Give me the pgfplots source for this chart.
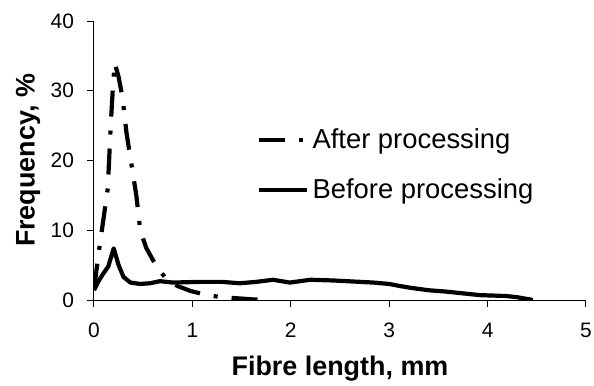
\documentclass[border=0pt]{standalone}
\usepackage{pgfplots}
\pgfplotsset{compat=1.18}
\usetikzlibrary{calc}
\usepackage{fontspec}
\setmainfont{Liberation Sans}
\begin{document}
\begin{tikzpicture}
\begin{axis}[
  name=ax,
  scale only axis,
  width=246bp, height=139.5bp,
  xmin=0, xmax=5, ymin=0, ymax=40,
  xtick={0,1,2,3,4,5}, ytick={0,10,20,30,40},
  axis x line*=bottom, axis y line*=left,
  axis line style={line width=0.5bp, -},
  tick align=outside, tick style={line width=0.5bp, black},
  major tick length=3.5bp,
  /pgf/number format/assume math mode=true,
  ticklabel style={font=\fontsize{10.5}{12}\selectfont},
  xticklabel style={yshift=-4.5bp},
  yticklabel style={xshift=-3bp},
  xlabel={Fibre length, mm},
  ylabel={Frequency, \%},
  label style={font=\fontsize{13.5}{16}\selectfont\bfseries},
  xlabel style={at={(axis description cs:0.5,-0.247)}, anchor=center},
  ylabel style={at={(axis description cs:-0.134,0.5)}, anchor=center},
  legend style={draw=none, fill=none, at={(axis cs:1.656,19.35)}, anchor=west,
    inner sep=0pt, row sep=10.5bp, font=\fontsize{13.75}{16}\selectfont,
    nodes={inner sep=1.5bp}},
  legend cell align=left,
  legend image code/.code={\draw[#1] (0bp,0bp) -- (24bp,0bp);},
]
\addplot[black, line width=2.1bp, dash pattern=on 13bp off 7bp on 2bp off 7bp] coordinates {
(0,1.5) (0.05,7) (0.1,12) (0.14,16) (0.17,25) (0.19,30) (0.21,34)
(0.25,32) (0.29,29) (0.33,24) (0.38,19.5) (0.43,15) (0.47,10)
(0.53,7.5) (0.6,5.7) (0.67,4.2) (0.74,2.9) (0.85,2) (0.98,1.3)
(1.15,0.7) (1.3,0.4) (1.45,0.25) (1.6,0.1) (1.75,0)
};
\addlegendentry{After processing}
\addplot[black, line width=2.1bp, line join=round] coordinates {
(0,1.4) (0.05,2.8) (0.095,3.8) (0.145,4.8) (0.2,7.4) (0.25,5) (0.3,3.3)
(0.37,2.5) (0.47,2.3) (0.57,2.4) (0.67,2.7) (0.8,2.5) (1.08,2.6)
(1.3,2.6) (1.48,2.4) (1.65,2.6) (1.82,2.9) (1.99,2.5) (2.2,2.9)
(2.43,2.8) (2.84,2.5) (3.0,2.3) (3.11,2.0) (3.24,1.7) (3.4,1.4)
(3.58,1.2) (3.75,0.95) (3.92,0.7) (4.19,0.57) (4.3,0.4) (4.46,0)
};
\addlegendentry{Before processing}
\end{axis}
\pgfresetboundingbox
\path[use as bounding box] ($(ax.south west)+(-47bp,-43bp)$) rectangle ($(ax.north east)+(4bp,10.5bp)$);
\end{tikzpicture}
\end{document}
